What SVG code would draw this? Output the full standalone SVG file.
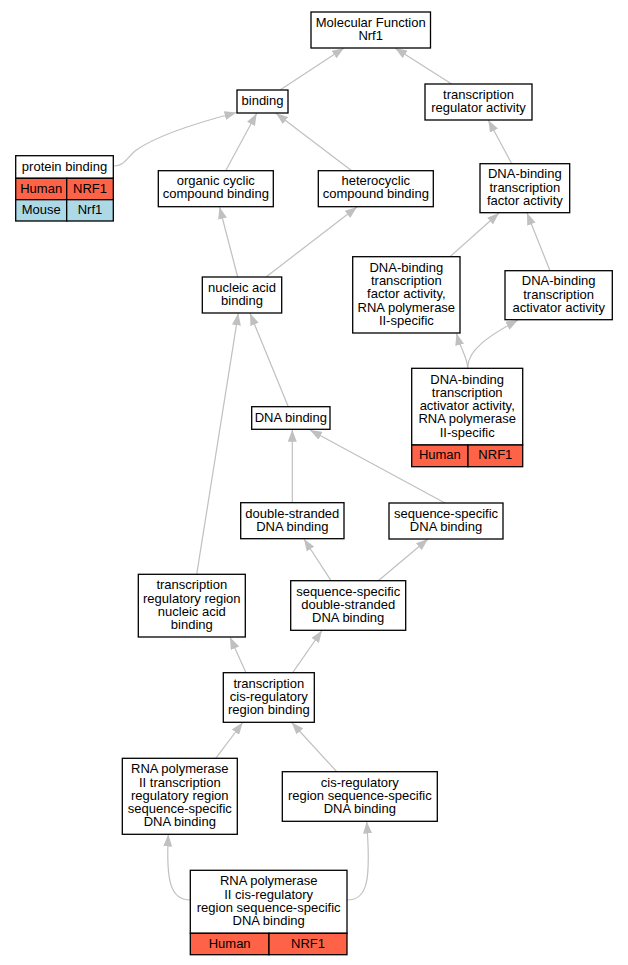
<svg xmlns="http://www.w3.org/2000/svg" width="628" height="965" viewBox="0 0 628 965">
<style>
.n rect{fill:#fff;stroke:#000;stroke-width:1.3}
.n rect.h{fill:#ff6347}
.n rect.m{fill:#add8e6}
text{font-family:"Liberation Sans",Arial,sans-serif;font-size:13px;fill:#000;text-anchor:middle}
.e path{fill:none;stroke:#c0c0c0;stroke-width:1.2}
</style>
<defs>
<marker id="ah" viewBox="0 0 12 9" refX="12" refY="4.5" markerWidth="12" markerHeight="9" orient="auto" markerUnits="userSpaceOnUse"><path d="M0,0 L12,4.5 L0,9z" fill="#c0c0c0" stroke="none"/></marker>
</defs>
<g class="e" transform="translate(0,0)">
<path marker-end="url(#ah)" d="M280,90 L344,48"/>
<path marker-end="url(#ah)" d="M451.7,84 L395,48"/>
<path marker-end="url(#ah)" d="M114,166 C124,166 127,158 135,151 C155,136 200,122 236.5,112.5"/>
<path marker-end="url(#ah)" d="M225.7,170.7 L256.7,113.3"/>
<path marker-end="url(#ah)" d="M351.7,170.7 L276,113.3"/>
<path marker-end="url(#ah)" d="M511.7,163.7 L488.3,120"/>
<path marker-end="url(#ah)" d="M237.7,277 L219.5,207"/>
<path marker-end="url(#ah)" d="M266,277 L357,207"/>
<path marker-end="url(#ah)" d="M450,256.7 L499,213"/>
<path marker-end="url(#ah)" d="M550,270.7 L527,213"/>
<path marker-end="url(#ah)" d="M467.7,368.3 C467.7,358 461,350 456.5,333.3"/>
<path marker-end="url(#ah)" d="M467.7,368.3 C467,350 490,335 518,320"/>
<path marker-end="url(#ah)" d="M288.3,406.7 L250,313.3"/>
<path marker-end="url(#ah)" d="M196.7,574.3 L238.3,313.3"/>
<path marker-end="url(#ah)" d="M292.3,502.7 L292.3,429.7"/>
<path marker-end="url(#ah)" d="M445,503 L310,430"/>
<path marker-end="url(#ah)" d="M331,580.7 L304,539"/>
<path marker-end="url(#ah)" d="M378.3,580.7 L428,539"/>
<path marker-end="url(#ah)" d="M246,672.7 L230,637.3"/>
<path marker-end="url(#ah)" d="M292.7,672.7 L322,630.5"/>
<path marker-end="url(#ah)" d="M215.7,758.3 L242.7,722.5"/>
<path marker-end="url(#ah)" d="M336.7,771.7 L291.7,722.5"/>
<path marker-end="url(#ah)" d="M190.3,900 C170,900 166,880 168.3,834.5"/>
<path marker-end="url(#ah)" d="M347,900 C368,900 371,880 366.7,821.5"/>
</g>
<g id="n1" class="n"><rect x="311" y="12" width="119.5" height="36"/><text x="370.7" y="26.85">Molecular Function</text><text x="370.7" y="40.15">Nrf1</text></g>
<g id="n2" class="n"><rect x="237" y="90" width="51" height="23"/><text x="262.5" y="105">binding</text></g>
<g id="n3" class="n"><rect x="425" y="84" width="107" height="36"/><text x="478.5" y="98.85">transcription</text><text x="478.5" y="112.15">regulator activity</text></g>
<g id="n4" class="n"><rect x="15.7" y="155.7" width="97.6" height="22.6"/><rect class="h" x="15.7" y="178.3" width="51" height="21.4"/><rect class="h" x="66.7" y="178.3" width="46.6" height="21.4"/><rect class="m" x="15.7" y="199.7" width="51" height="21.3"/><rect class="m" x="66.7" y="199.7" width="46.6" height="21.3"/><text x="64.5" y="170.5">protein binding</text><text x="41.2" y="192.5">Human</text><text x="90" y="192.5">NRF1</text><text x="41.2" y="213.8">Mouse</text><text x="90" y="213.8">Nrf1</text></g>
<g id="n5" class="n"><rect x="158.3" y="170.7" width="115" height="36"/><text x="215.8" y="184.9">organic cyclic</text><text x="215.8" y="198.2">compound binding</text></g>
<g id="n6" class="n"><rect x="318.3" y="170.7" width="115" height="36"/><text x="375.8" y="184.9">heterocyclic</text><text x="375.8" y="198.2">compound binding</text></g>
<g id="n7" class="n"><rect x="480" y="163.7" width="89.7" height="49"/><text x="524.85" y="178.4">DNA-binding</text><text x="524.85" y="191.7">transcription</text><text x="524.85" y="205">factor activity</text></g>
<g id="n8" class="n"><rect x="202.3" y="277" width="79.4" height="36"/><text x="242" y="291.85">nucleic acid</text><text x="242" y="305.15">binding</text></g>
<g id="n9" class="n"><rect x="352.7" y="256.7" width="107.3" height="76.3"/><text x="406.35" y="271.75">DNA-binding</text><text x="406.35" y="285.05">transcription</text><text x="406.35" y="298.35">factor activity,</text><text x="406.35" y="311.65">RNA polymerase</text><text x="406.35" y="324.95">II-specific</text></g>
<g id="n10" class="n"><rect x="505" y="270.7" width="107.3" height="49"/><text x="558.65" y="285.4">DNA-binding</text><text x="558.65" y="298.7">transcription</text><text x="558.65" y="312">activator activity</text></g>
<g id="n11" class="n"><rect x="411.7" y="368.3" width="111" height="76.7"/><rect class="h" x="411.7" y="445" width="56.3" height="21.7"/><rect class="h" x="468" y="445" width="54.7" height="21.7"/><text x="467.2" y="383.55">DNA-binding</text><text x="467.2" y="396.85">transcription</text><text x="467.2" y="410.15">activator activity,</text><text x="467.2" y="423.45">RNA polymerase</text><text x="467.2" y="436.75">II-specific</text><text x="439.85" y="459.35">Human</text><text x="495.35" y="459.35">NRF1</text></g>
<g id="n12" class="n"><rect x="251.7" y="406.7" width="78.3" height="22.6"/><text x="290.85" y="421.5">DNA binding</text></g>
<g id="n13" class="n"><rect x="240.7" y="502.7" width="103.3" height="36"/><text x="292.35" y="517.55">double-stranded</text><text x="292.35" y="530.85">DNA binding</text></g>
<g id="n14" class="n"><rect x="389" y="503" width="114" height="36"/><text x="446" y="517.85">sequence-specific</text><text x="446" y="531.15">DNA binding</text></g>
<g id="n15" class="n"><rect x="138.3" y="574.3" width="107" height="62.7"/><text x="191.8" y="589.2">transcription</text><text x="191.8" y="602.5">regulatory region</text><text x="191.8" y="615.8">nucleic acid</text><text x="191.8" y="629.1">binding</text></g>
<g id="n16" class="n"><rect x="290.7" y="580.7" width="115" height="49.6"/><text x="348.2" y="595.7">sequence-specific</text><text x="348.2" y="609">double-stranded</text><text x="348.2" y="622.3">DNA binding</text></g>
<g id="n17" class="n"><rect x="223.3" y="672.7" width="91" height="49.6"/><text x="268.8" y="687.7">transcription</text><text x="268.8" y="701">cis-regulatory</text><text x="268.8" y="714.3">region binding</text></g>
<g id="n18" class="n"><rect x="122.3" y="758.3" width="115" height="76"/><text x="179.8" y="773.2">RNA polymerase</text><text x="179.8" y="786.5">II transcription</text><text x="179.8" y="799.8">regulatory region</text><text x="179.8" y="813.1">sequence-specific</text><text x="179.8" y="826.4">DNA binding</text></g>
<g id="n19" class="n"><rect x="282.3" y="771.7" width="155" height="49.6"/><text x="359.8" y="786.7">cis-regulatory</text><text x="359.8" y="800">region sequence-specific</text><text x="359.8" y="813.3">DNA binding</text></g>
<g id="n20" class="n"><rect x="190.3" y="870.3" width="156.7" height="63"/><rect class="h" x="190.3" y="933.3" width="78.7" height="21.4"/><rect class="h" x="269" y="933.3" width="78" height="21.4"/><text x="268.65" y="885.35">RNA polymerase</text><text x="268.65" y="898.65">II cis-regulatory</text><text x="268.65" y="911.95">region sequence-specific</text><text x="268.65" y="925.25">DNA binding</text><text x="229.65" y="947.5">Human</text><text x="308" y="947.5">NRF1</text></g>
</svg>
